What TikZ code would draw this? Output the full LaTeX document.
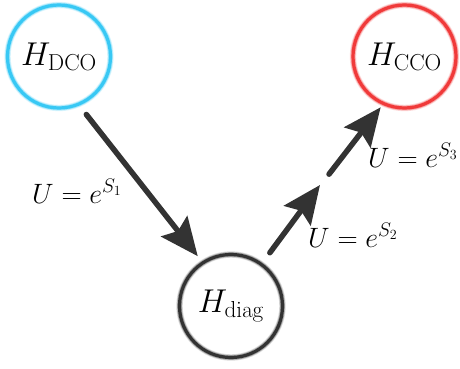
\documentclass[tikz,border=0pt]{standalone}
\usepackage{fix-cm}
\usetikzlibrary{arrows.meta}
\definecolor{ringcyan}{HTML}{38C8F4}
\definecolor{ringred}{HTML}{F03A3A}
\definecolor{ringgray}{HTML}{333333}
\definecolor{arrowgray}{HTML}{333333}
\begin{document}
\begin{tikzpicture}[x=1pt,y=-1pt,
  ring/.style={circle, minimum size=103pt, inner sep=0pt, outer sep=0pt,
    draw=#1, line width=3.2pt,
    preaction={draw=#1, line width=6.4pt, draw opacity=0.18},
    preaction={draw=#1, line width=4.8pt, draw opacity=0.35},
    font=\fontsize{33}{39}\selectfont},
  conn/.style={draw=arrowgray, line width=5.5pt, line cap=round,
    -{Stealth[length=38pt,width=33pt,inset=6pt]}},
  lbl/.style={anchor=base west, inner sep=0pt, font=\fontsize{28}{34}\selectfont}]
\useasboundingbox (0,0) rectangle (460,369);
\node[ring=ringcyan] (dco) at (59,56.5) {$H_{\mathrm{DCO}}$};
\node[ring=ringred] (cco) at (404.5,56.5) {$H_{\mathrm{CCO}}$};
\node[ring=ringgray] (diag) at (231,306) {$H_{\mathrm{diag}}$};
\coordinate (gapend) at (320,185);
\coordinate (gapstart) at (329,174.2);
\draw[conn, shorten <=13pt, shorten >=8.4pt] (dco.-68) -- (diag.123.4);
\draw[conn, shorten <=14.4pt] (diag.54.7) -- (gapend);
\draw[conn, shorten >=4.7pt] (gapstart) -- (cco.246.4);
\node[lbl] (l1) at (32,203) {$U=e^{S_1}$};
\node[lbl] (l2) at (308,247) {$U=e^{S_2}$};
\node[lbl] (l3) at (368,167) {$U=e^{S_3}$};
\end{tikzpicture}
\end{document}
